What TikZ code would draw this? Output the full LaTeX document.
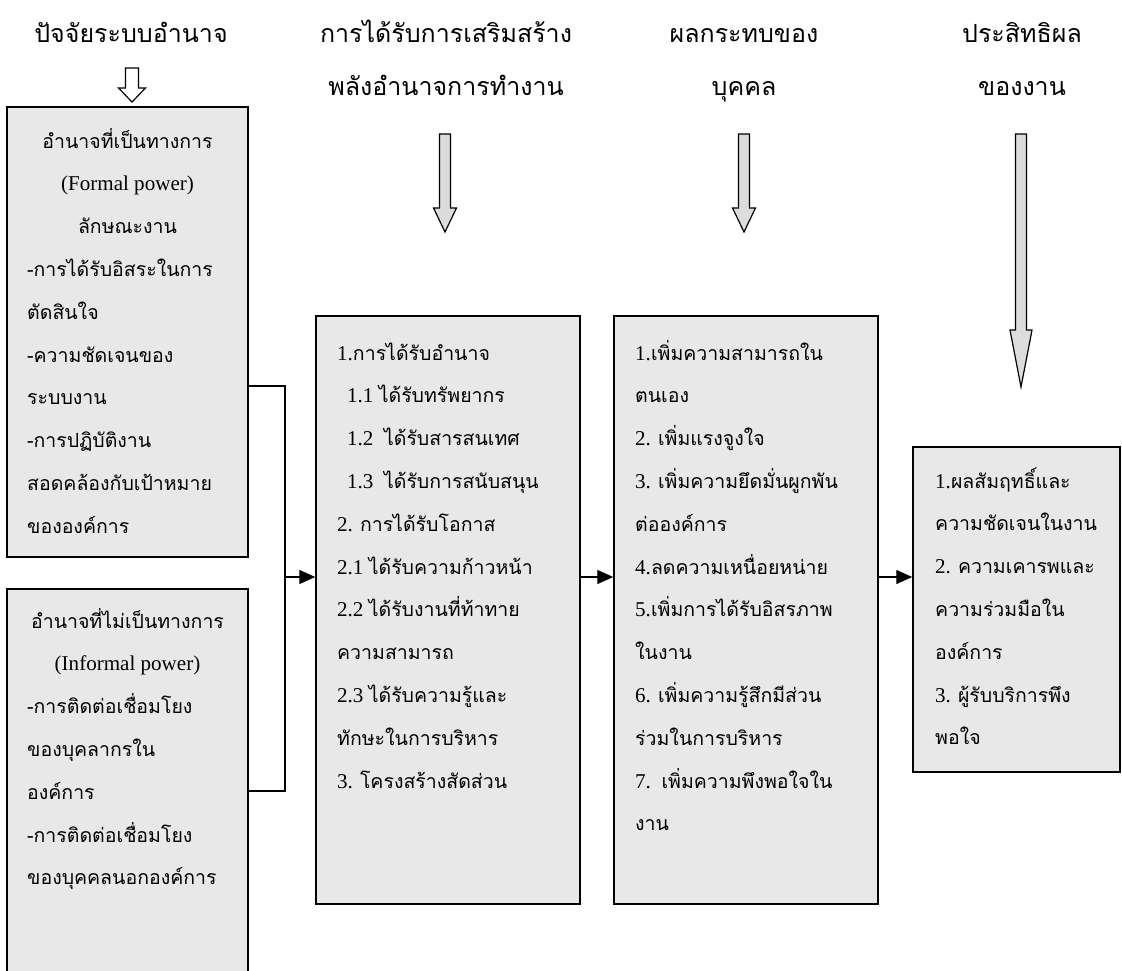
\documentclass[tikz,border=0pt]{standalone}
\usepackage{fontspec}
\setmainfont{Liberation Serif}[Scale=1.08]
\newfontfamily\thaifont[Script=Thai]{Loma}
\usetikzlibrary{arrows.meta}
\definecolor{panelgray}{HTML}{E8E8E8}
\definecolor{arrowgray}{HTML}{DCDCDC}
% Latin runs (numbers, English) in a Times-like face
\newcommand{\lt}[1]{{\rmfamily #1}}
% hollow block arrow pointing down: cx, top, head start, tip, half shaft, half head, fill
\newcommand{\downblock}[7]{%
  \draw[blockarrow,fill=#7] ({#1-#5},#2) -- ({#1+#5},#2) -- ({#1+#5},#3) -- ({#1+#6},#3)
    -- (#1,#4) -- ({#1-#6},#3) -- ({#1-#5},#3) -- cycle;}
\begin{document}
\begin{tikzpicture}[x=1pt,y=-1pt,
  panel/.style={draw=black, line width=1.5pt, fill=panelgray, inner sep=0pt},
  hdr/.style={font=\thaifont\fontsize{25}{30}\selectfont, anchor=base, inner sep=0pt},
  txt/.style={font=\thaifont\fontsize{19.5}{23}\selectfont, anchor=base west, inner sep=0pt},
  txtc/.style={txt, anchor=base},
  flow/.style={draw=black, line width=1.4pt},
  flowarr/.style={flow, -{Triangle[length=16pt,width=14pt]}},
  blockarrow/.style={draw=black, line width=1.2pt, line join=miter}]
\useasboundingbox (0,0) rectangle (1122,970);

% column headings
\node[hdr] (h1) at (131,42) {ปัจจัยระบบอำนาจ};
\node[hdr] (h2a) at (446,42) {การได้รับการเสริมสร้าง};
\node[hdr] (h2b) at (446,95) {พลังอำนาจการทำงาน};
\node[hdr] (h3a) at (744,42) {ผลกระทบของ};
\node[hdr] (h3b) at (744,95) {บุคคล};
\node[hdr] (h4a) at (1022,42) {ประสิทธิผล};
\node[hdr] (h4b) at (1022,95) {ของงาน};

% heading arrows
\downblock{132}{68}{88}{102}{6.5}{13.5}{white}
\downblock{445}{134}{208}{232}{5.5}{11.5}{arrowgray}
\downblock{744}{134}{208}{232}{5.5}{11.5}{arrowgray}
\downblock{1021}{134}{330}{387}{5.5}{11}{arrowgray}

% panels (the informal-power panel runs on past the lower edge)
\node[panel, minimum width=241pt, minimum height=450pt] (box1) at (127.5,332) {};
\node[panel, minimum width=241pt, minimum height=400pt] (box2) at (127.5,789) {};
\node[panel, minimum width=264pt, minimum height=588pt] (c2) at (448,610) {};
\node[panel, minimum width=264pt, minimum height=588pt] (c3) at (746,610) {};
\node[panel, minimum width=207pt, minimum height=325pt] (c4) at (1016.5,609.5) {};

% formal power
\node[txtc] (b1t0) at (127.5,148) {อำนาจที่เป็นทางการ};
\node[txtc] (b1t1) at (127.5,190.8) {\lt{(Formal power)}};
\node[txtc] (b1t2) at (127.5,233.6) {ลักษณะงาน};
\foreach \t [count=\i from 3] in {-การได้รับอิสระในการ, ตัดสินใจ, -ความชัดเจนของ,
    ระบบงาน, -การปฏิบัติงาน, สอดคล้องกับเป้าหมาย, ขององค์การ}
  \node[txt] (b1t\i) at (27, 148+42.8*\i) {\t};

% informal power
\node[txtc] (b2t0) at (127.5,628) {อำนาจที่ไม่เป็นทางการ};
\node[txtc] (b2t1) at (127.5,670.8) {\lt{(Informal power)}};
\foreach \t [count=\i from 2] in {-การติดต่อเชื่อมโยง, ของบุคลากรใน, องค์การ,
    -การติดต่อเชื่อมโยง, ของบุคคลนอกองค์การ}
  \node[txt] (b2t\i) at (27, 628+42.8*\i) {\t};

% empowerment
\foreach \t [count=\i from 0] in {\lt{1.}การได้รับอำนาจ,
    \hspace*{10pt}\lt{1.1 }ได้รับทรัพยากร,
    \hspace*{10pt}\lt{1.2\ \ }ได้รับสารสนเทศ,
    \hspace*{10pt}\lt{1.3\ \ }ได้รับการสนับสนุน,
    \lt{2. }การได้รับโอกาส, \lt{2.1 }ได้รับความก้าวหน้า, \lt{2.2 }ได้รับงานที่ท้าทาย,
    ความสามารถ, \lt{2.3 }ได้รับความรู้และ, ทักษะในการบริหาร, \lt{3. }โครงสร้างสัดส่วน}
  \node[txt] (c2t\i) at (337, 360+42.8*\i) {\t};

% individual outcomes
\foreach \t [count=\i from 0] in {\lt{1.}เพิ่มความสามารถใน, ตนเอง, \lt{2. }เพิ่มแรงจูงใจ,
    \lt{3. }เพิ่มความยึดมั่นผูกพัน, ต่อองค์การ, \lt{4.}ลดความเหนื่อยหน่าย,
    \lt{5.}เพิ่มการได้รับอิสรภาพ, ในงาน, \lt{6. }เพิ่มความรู้สึกมีส่วน,
    ร่วมในการบริหาร, \lt{7.\ \ }เพิ่มความพึงพอใจใน, งาน}
  \node[txt] (c3t\i) at (635, 360+42.8*\i) {\t};

% work effectiveness
\foreach \t [count=\i from 0] in {\lt{1.}ผลสัมฤทธิ์และ, ความชัดเจนในงาน, \lt{2. }ความเคารพและ,
    ความร่วมมือใน, องค์การ, \lt{3. }ผู้รับบริการพึง, พอใจ}
  \node[txt] (c4t\i) at (935, 488+42.8*\i) {\t};

% connectors
\coordinate (tap1) at (box1.east |- 0,386);
\coordinate (tap2) at (box2.east |- 0,791);
\coordinate (join) at (285,577);
\coordinate (lvl) at (0,577);
\draw[flow] (tap1) -| (join);
\draw[flow] (tap2) -| (join);
\draw[flowarr] (join) -- (c2.west |- join);
\draw[flowarr] (c2.east |- lvl) -- (c3.west |- lvl);
\draw[flowarr] (c3.east |- lvl) -- (c4.west |- lvl);
\end{tikzpicture}
\end{document}
